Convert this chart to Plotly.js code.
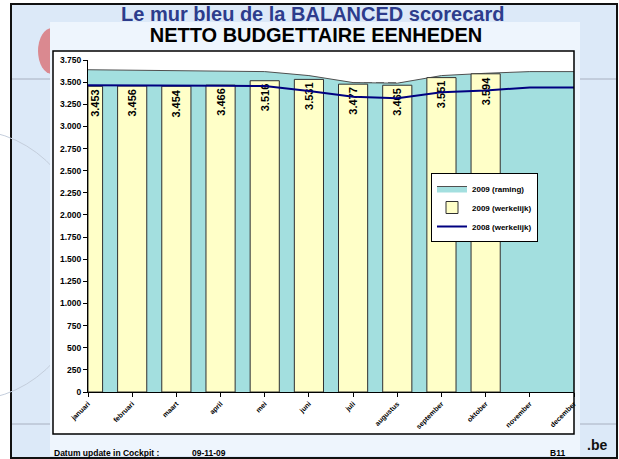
<!DOCTYPE html>
<html><head><meta charset="utf-8">
<script src="https://cdn.plot.ly/plotly-3.0.1.min.js"></script>
<style>html,body{margin:0;padding:0;background:#fff;}#chart{width:619px;height:459px;}</style>
</head><body><div id="chart"></div>
<script>
// ---- data ----
const months = ['januari','februari','maart','april','mei','juni','juli','augustus','september','oktober','november','december'];
const raming2009 = [3640,3635,3630,3625,3619,3574,3495,3488,3574,3600,3619,3619];
const werkelijk2009 = [3453,3456,3454,3466,3516,3531,3477,3465,3551,3594];
const werkelijk2008 = [3466,3466,3463,3460,3455,3400,3335,3318,3385,3405,3440,3440];
const seriesNames = ['2009 (raming)','2009 (werkelijk)','2008 (werkelijk)'];
const chartTitle = 'NETTO BUDGETTAIRE EENHEDEN';
const slideTitle = 'Le mur bleu de la BALANCED scorecard';
const footerLabel = 'Datum update in Cockpit :';
const footerDate = '09-11-09';
const pageCode = 'B11';

// ---- geometry helpers (plot area in pixels) ----
const L = 88, T = 60, W = 486, H = 332;
const px = x => (x - L) / W;
const py = y => (T + H - y) / H;

const FONT = 'Liberation Sans, Arial, Helvetica, sans-serif';
const xr = [0, months.length - 1];
const yr = [0, 3750];

const traces = [
  {
    type: 'scatter', mode: 'lines', name: seriesNames[0],
    x: months, y: raming2009, xaxis: 'x', yaxis: 'y',
    fill: 'tozeroy', fillcolor: '#a3dfdf',
    line: {color: '#505050', width: 1}, hoverinfo: 'skip'
  },
  {
    type: 'bar', name: seriesNames[1],
    x: months.slice(0, werkelijk2009.length), y: werkelijk2009,
    xaxis: 'x2', yaxis: 'y2',
    width: werkelijk2009.map((v, i) => i === 0 ? 0.33 : 0.66),
    offset: werkelijk2009.map((v, i) => i === 0 ? 0 : -0.33),
    marker: {color: '#ffffc8', line: {color: '#303030', width: 1}},
    texttemplate: '%{y:,d}', textposition: 'inside', textangle: -90,
    insidetextanchor: 'end', constraintext: 'none',
    insidetextfont: {family: FONT, size: 11, weight: 'bold', color: '#000'},
    hoverinfo: 'skip'
  },
  {
    type: 'scatter', mode: 'lines', name: seriesNames[2],
    x: months, y: werkelijk2008, xaxis: 'x2', yaxis: 'y2',
    line: {color: '#000080', width: 2}, hoverinfo: 'skip'
  }
];

const shapes = [
  // slide frame and background
  {type: 'rect', xref: 'paper', yref: 'paper', x0: px(11), x1: px(617), y0: py(4), y1: py(458),
   fillcolor: '#dce9f8', line: {color: '#111', width: 2}, layer: 'below'},
  // decorative red logo
  {type: 'circle', xref: 'paper', yref: 'paper', x0: px(38), x1: px(66), y0: py(28), y1: py(74),
   fillcolor: '#d83a3a', opacity: 0.55, line: {width: 0}, layer: 'below'},
  // decorative lines
  {type: 'line', xref: 'paper', yref: 'paper', x0: px(12), x1: px(616), y0: py(79), y1: py(79),
   line: {color: '#a8b0c0', width: 1}, layer: 'below'},
  {type: 'line', xref: 'paper', yref: 'paper', x0: px(12), x1: px(616), y0: py(424), y1: py(424),
   line: {color: '#a8b0c0', width: 1}, layer: 'below'},
  {type: 'circle', xref: 'paper', yref: 'paper', x0: px(-150), x1: px(90), y0: py(130), y1: py(400),
   fillcolor: 'rgba(0,0,0,0)', line: {color: '#c4cedc', width: 1}, layer: 'below'},
  // lighter panel
  {type: 'rect', xref: 'paper', yref: 'paper', x0: px(50), x1: px(580), y0: py(22), y1: py(456),
   fillcolor: '#eef5fd', line: {width: 0}, layer: 'below'},
  // chart box
  {type: 'rect', xref: 'paper', yref: 'paper', x0: px(53), x1: px(574), y0: py(51), y1: py(434),
   fillcolor: '#ffffff', line: {width: 0}, layer: 'below'},
  {type: 'rect', xref: 'paper', yref: 'paper', x0: px(53), x1: px(574), y0: py(51), y1: py(434),
   fillcolor: 'rgba(0,0,0,0)', line: {color: '#000', width: 1.5}, layer: 'above'}
];

const annotations = [
  {text: slideTitle, xref: 'paper', yref: 'paper', x: px(312), y: py(13.5), xanchor: 'center', yanchor: 'middle',
   showarrow: false, font: {family: FONT, size: 20, weight: 'bold', color: '#2d3c8c'}},
  {text: footerLabel, xref: 'paper', yref: 'paper', x: px(52), y: py(452.5), xanchor: 'left', yanchor: 'middle',
   showarrow: false, font: {family: FONT, size: 8.5, weight: 'bold', color: '#000'}},
  {text: footerDate, xref: 'paper', yref: 'paper', x: px(190), y: py(452.5), xanchor: 'left', yanchor: 'middle',
   showarrow: false, font: {family: FONT, size: 8.5, weight: 'bold', color: '#000'}},
  {text: pageCode, xref: 'paper', yref: 'paper', x: px(548), y: py(452.5), xanchor: 'left', yanchor: 'middle',
   showarrow: false, font: {family: FONT, size: 8.5, weight: 'bold', color: '#000'}},
  {text: '.be', xref: 'paper', yref: 'paper', x: px(597), y: py(445), xanchor: 'center', yanchor: 'middle',
   showarrow: false, font: {family: FONT, size: 14, weight: 'bold', color: '#111'}}
];

const axisCommon = {
  showline: true, linecolor: '#000', linewidth: 1, ticks: 'outside', ticklen: 4,
  tickcolor: '#000', zeroline: false, fixedrange: true
};

const layout = {
  width: 619, height: 459,
  margin: {l: L, r: 619 - L - W, t: T, b: 459 - T - H},
  paper_bgcolor: '#ffffff', plot_bgcolor: 'rgba(0,0,0,0)',
  separators: ',.',
  font: {family: FONT, color: '#000'},
  title: {text: chartTitle, xref: 'container', yref: 'container', x: 316 / 619, y: 1 - 35 / 459,
          xanchor: 'center', yanchor: 'middle', font: {family: FONT, size: 20, weight: 'bold', color: '#000'}},
  showlegend: true,
  legend: {x: px(431), y: py(173), xanchor: 'left', yanchor: 'top', bgcolor: '#fff',
           bordercolor: '#000', borderwidth: 1, tracegroupgap: 0,
           font: {family: FONT, size: 8, weight: 'bold', color: '#000'}},
  xaxis: Object.assign({}, axisCommon, {
    type: 'category', categoryarray: months, range: xr, showgrid: false, tickangle: -45,
    tickfont: {family: FONT, size: 7, weight: 'bold', color: '#000'}
  }),
  yaxis: Object.assign({}, axisCommon, {
    range: yr, dtick: 250, tick0: 0, tickformat: ',d', showgrid: true,
    gridcolor: '#808080', gridwidth: 1, griddash: '8px,4px',
    tickfont: {family: FONT, size: 8.5, weight: 'bold', color: '#000'}
  }),
  xaxis2: {type: 'category', categoryarray: months, range: xr, overlaying: 'x', visible: false, fixedrange: true},
  yaxis2: {range: yr, overlaying: 'y', visible: false, fixedrange: true},
  shapes: shapes,
  annotations: annotations
};

Plotly.newPlot('chart', traces, layout, {displayModeBar: false, staticPlot: true});
</script>
</body></html>
